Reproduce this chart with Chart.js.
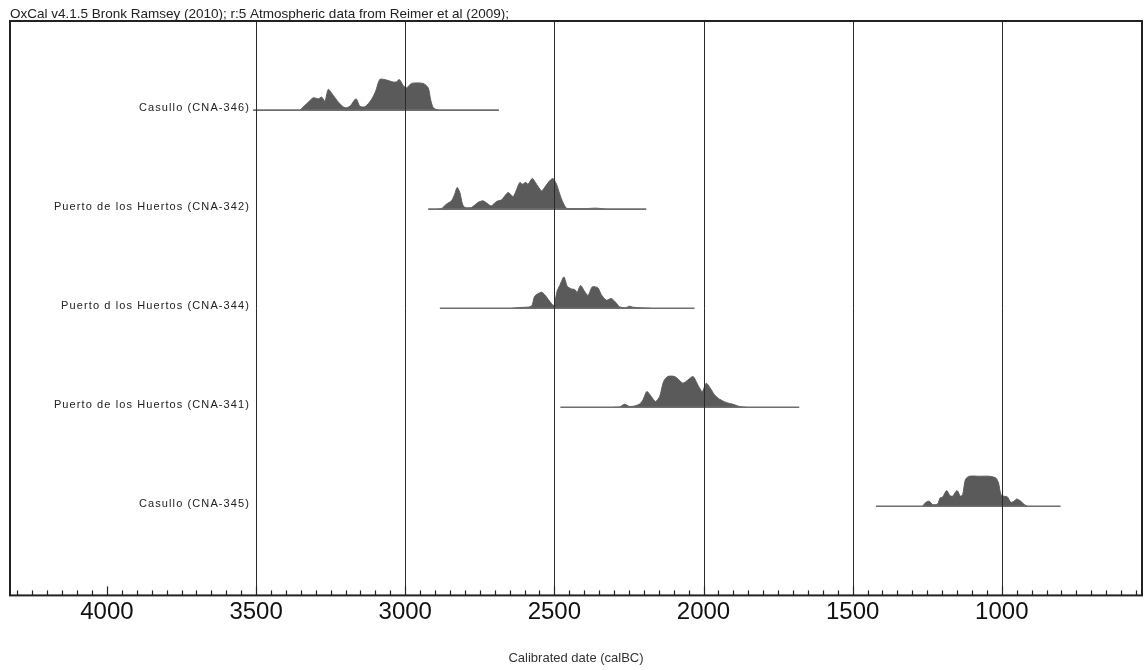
<!DOCTYPE html>
<html>
<head>
<meta charset="utf-8">
<script src="https://cdn.jsdelivr.net/npm/chart.js@4.4.0/dist/chart.umd.min.js"></script>
<style>
  body { margin: 0; background: #fff; }
  #wrap { width: 1144px; height: 670px; }
</style>
</head>
<body>
<div id="wrap"><canvas id="chart"></canvas></div>
<script>
    const titleText = 'OxCal v4.1.5 Bronk Ramsey (2010); r:5 Atmospheric data from Reimer et al (2009);';
    const axisTitle = 'Calibrated date (calBC)';
    // labelled ticks on the date axis
    const tickValues = [4000, 3500, 3000, 2500, 2000, 1500, 1000];
    // sample names, top to bottom
    const labels = ['Casullo (CNA-346)', 'Puerto de los Huertos (CNA-342)', 'Puerto d los Huertos (CNA-344)', 'Puerto de los Huertos (CNA-341)', 'Casullo (CNA-345)'];
    // extent of the thin line under each distribution (calBC)
    const rangeStart = [3510, 2923, 2884, 2480, 1422];
    const rangeEnd = [2686, 2192, 2030, 1679, 803];

    // [year calBC, relative probability]
    const cna346 = [[3353,0],[3325,8],[3308,12.3],[3291,11.3],[3280,13],[3269,9],[3258,20.7],[3241,14.7],[3224,8],[3202,2.3],[3185,4],[3165,11.3],[3152,4],[3135,3.3],[3113,10.7],[3099,19],[3085,30.7],[3062,30],[3040,28],[3029,28.3],[3020,30.7],[3007,24.7],[2995,22.3],[2979,26.7],[2940,26.7],[2923,22.3],[2915,10.7],[2906,2.3],[2890,0]];
    const cna342 = [[2892,0],[2878,0.7],[2862,5],[2845,8.3],[2834,15],[2826,21.7],[2817,16.7],[2808,5],[2800,1.7],[2778,1.7],[2756,6.7],[2739,8.3],[2722,5],[2711,3.3],[2694,7.7],[2677,9.3],[2655,16.7],[2638,12.7],[2616,26.7],[2607,25],[2596,26.7],[2588,25],[2574,30.7],[2560,25],[2543,18.3],[2533,21.7],[2516,28.3],[2505,30.7],[2493,25],[2482,15],[2471,6.7],[2460,1],[2449,0.7],[2400,0.5],[2360,1],[2326,0]];
    const cna344 = [[2640,0],[2616,0.7],[2577,2],[2566,12],[2543,16],[2533,13.7],[2516,7],[2502,2.7],[2491,17],[2482,22.7],[2468,31.3],[2457,22],[2443,19.3],[2432,18.7],[2424,16],[2412,22.7],[2399,17],[2387,12.7],[2373,21.3],[2354,20.3],[2343,13.7],[2326,8],[2309,9.7],[2293,5.3],[2281,1.3],[2260,0.5],[2248,2],[2237,1],[2204,0.3],[2180,0]];
    const cna341 = [[2300,0],[2281,0.3],[2265,3],[2248,0.7],[2231,1.3],[2214,3.3],[2203,7.3],[2190,15.7],[2175,10.7],[2161,5.7],[2147,10.7],[2134,25.7],[2120,30.7],[2097,30.7],[2080,26.7],[2069,24],[2052,27.3],[2035,30.7],[2019,22.3],[2004,15.7],[1991,24],[1977,19],[1963,12.3],[1946,8],[1924,4.7],[1902,3],[1879,0.7],[1857,0]];
    const cna345 = [[1266,0],[1254,4],[1243,5],[1232,1.7],[1215,2.3],[1207,8.3],[1198,9.3],[1185,15.7],[1174,10.7],[1165,10],[1150,15.7],[1139,10],[1131,11.7],[1122,26.7],[1109,30],[1076,30],[1042,30],[1020,28.3],[1011,23.3],[1003,11.7],[992,10],[981,9.3],[970,4],[959,5],[950,7.3],[936,5],[925,1.7],[914,0]];

    const dists = [cna346, cna342, cna344, cna341, cna345];
    const probScale = 1 / 99;
    const font = '"Liberation Sans", Arial, sans-serif';

    const datasets = [];
    dists.forEach((dist, i) => {
      // thin range line
      datasets.push({
        data: [{ x: rangeStart[i], y: i }, { x: rangeEnd[i], y: i }],
        showLine: true,
        borderColor: '#6e6e6e',
        borderWidth: 1.6,
        pointRadius: 0,
        fill: false
      });
      // probability distribution
      datasets.push({
        data: dist.map(p => ({ x: p[0], y: i - p[1] * probScale })),
        showLine: true,
        borderColor: '#5c5c5c',
        backgroundColor: '#5a5a5a',
        borderWidth: 1,
        pointRadius: 0,
        tension: 0.25,
        fill: { value: i }
      });
    });

    // grid, tick marks, frame, row labels and the header line
    const oxcalDecor = {
      id: 'oxcalDecor',
      afterDatasetsDraw(chart) {
        const ctx = chart.ctx;
        const area = chart.chartArea;
        const xs = chart.scales.x;
        const ys = chart.scales.y;
        ctx.save();

        // vertical grid lines
        ctx.strokeStyle = '#2a2a2a';
        ctx.lineWidth = 1;
        for (let v = 1000; v <= 3500; v += 500) {
          const px = Math.round(xs.getPixelForValue(v)) + 0.5;
          ctx.beginPath();
          ctx.moveTo(px, area.top);
          ctx.lineTo(px, area.bottom);
          ctx.stroke();
        }

        // tick marks pointing up from the axis
        ctx.strokeStyle = '#222';
        ctx.lineWidth = 1.2;
        const lo = Math.ceil(xs.min / 50) * 50;
        for (let v = lo; v <= xs.max; v += 50) {
          const px = Math.round(xs.getPixelForValue(v)) + 0.5;
          const len = v % 500 === 0 ? 9 : 5;
          ctx.beginPath();
          ctx.moveTo(px, area.bottom);
          ctx.lineTo(px, area.bottom - len);
          ctx.stroke();
        }

        // frame
        ctx.lineWidth = 2;
        ctx.strokeStyle = '#222';
        ctx.strokeRect(area.left, area.top, area.right - area.left, area.bottom - area.top);

        // row labels
        ctx.fillStyle = '#222';
        ctx.font = '11px ' + font;
        ctx.letterSpacing = '1.1px';
        ctx.textAlign = 'right';
        ctx.textBaseline = 'middle';
        labels.forEach((lab, i) => {
          ctx.fillText(lab, 250, ys.getPixelForValue(i) - 2);
        });

        // header
        ctx.letterSpacing = '0px';
        ctx.font = '13.5px ' + font;
        ctx.textAlign = 'left';
        ctx.fillStyle = '#222';
        ctx.fillText(titleText, 10, 14);
        ctx.restore();
      }
    };

    new Chart(document.getElementById('chart'), {
      type: 'scatter',
      data: { datasets: datasets },
      plugins: [oxcalDecor],
      options: {
        responsive: true,
        maintainAspectRatio: false,
        animation: false,
        layout: { padding: { left: 10, right: 2, top: 21, bottom: 2 } },
        plugins: {
          legend: { display: false },
          tooltip: { enabled: false },
          title: { display: false }
        },
        scales: {
          x: {
            type: 'linear',
            reverse: true,
            min: 530,
            max: 4325,
            afterBuildTicks: (axis) => {
              axis.ticks = tickValues.map(v => ({ value: v }));
            },
            grid: { display: false, drawTicks: false },
            border: { display: false },
            ticks: {
              autoSkip: false,
              maxRotation: 0,
              padding: 5,
              color: '#111',
              font: { family: font, size: 24, lineHeight: 1 },
              callback: (v) => String(v)
            },
            title: {
              display: true,
              text: axisTitle,
              color: '#333',
              font: { family: font, size: 13 },
              padding: { top: 21, bottom: 2 }
            }
          },
          y: {
            display: false,
            reverse: true,
            min: -0.9,
            max: 4.9
          }
        }
      }
    });
</script>
</body>
</html>
